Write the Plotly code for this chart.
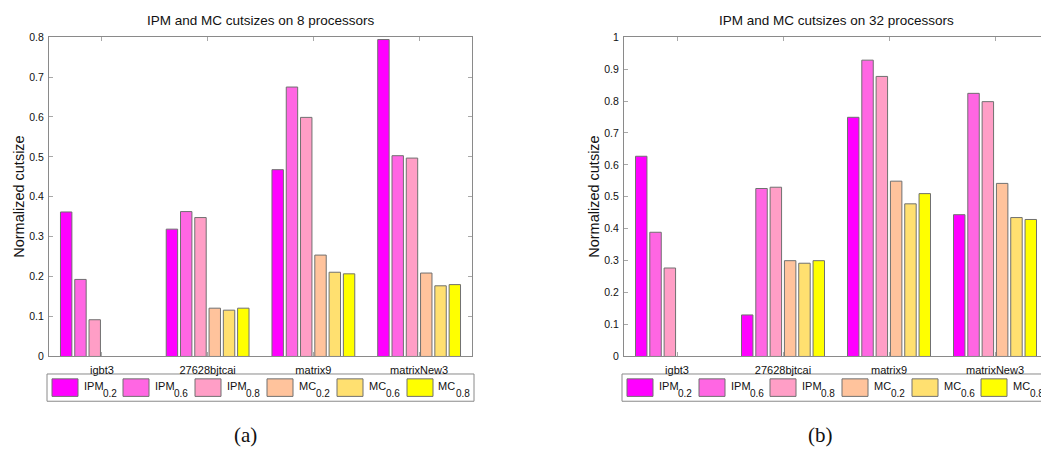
import plotly.graph_objects as go

categories = ["igbt3", "27628bjtcai", "matrix9", "matrixNew3"]
series_main = ["IPM", "IPM", "IPM", "MC", "MC", "MC"]
series_sub = ["0.2", "0.6", "0.8", "0.2", "0.6", "0.8"]
series_colors = ["#FF00FF", "#FF66E3", "#FF9EC6", "#FFC39C", "#FFE070", "#FFFF00"]

# 8 processors
p8_ipm02 = [0.362, 0.319, 0.468, 0.794]
p8_ipm06 = [0.193, 0.363, 0.675, 0.503]
p8_ipm08 = [0.092, 0.348, 0.599, 0.497]
p8_mc02 = [None, 0.121, 0.254, 0.209]
p8_mc06 = [None, 0.116, 0.211, 0.177]
p8_mc08 = [None, 0.121, 0.207, 0.180]

# 32 processors
p32_ipm02 = [0.627, 0.130, 0.749, 0.444]
p32_ipm06 = [0.389, 0.526, 0.928, 0.824]
p32_ipm08 = [0.277, 0.530, 0.877, 0.798]
p32_mc02 = [None, 0.300, 0.549, 0.542]
p32_mc06 = [None, 0.292, 0.478, 0.435]
p32_mc08 = [None, 0.300, 0.510, 0.429]

y_ticks_8 = [0, 0.1, 0.2, 0.3, 0.4, 0.5, 0.6, 0.7, 0.8]
y_ticks_32 = [0, 0.1, 0.2, 0.3, 0.4, 0.5, 0.6, 0.7, 0.8, 0.9, 1]

W, H = 1041, 453
FONT = "Liberation Sans, Arial, Helvetica, sans-serif"

fig = go.Figure()
sets = [
    ("x", "y", [p8_ipm02, p8_ipm06, p8_ipm08, p8_mc02, p8_mc06, p8_mc08]),
    ("x2", "y2", [p32_ipm02, p32_ipm06, p32_ipm08, p32_mc02, p32_mc06, p32_mc08]),
]
for xa, ya, vals in sets:
    for m, s, col, v in zip(series_main, series_sub, series_colors, vals):
        fig.add_trace(go.Bar(
            x=categories, y=v, name=f"{m}<sub>{s}</sub>", xaxis=xa, yaxis=ya,
            marker=dict(color=col, line=dict(color="#707070", width=1)),
            showlegend=False,
        ))


def px_x(px):
    return px / W


def px_y(py):
    return 1 - py / H


ydom = [px_y(360), px_y(32)]
axis_common = dict(showline=True, linecolor="#8a8a8a", linewidth=1,
                   ticks="inside", ticklen=4, tickcolor="#a8a8a8",
                   showgrid=False, zeroline=False)
xfont = dict(family=FONT, size=11, color="#111")
yfont = dict(family=FONT, size=10.5, color="#111")

fig.update_layout(
    width=W, height=H, margin=dict(l=0, r=0, t=0, b=0),
    paper_bgcolor="white", plot_bgcolor="white",
    barmode="group", bargap=0.19, bargroupgap=0.2,
    font=dict(family=FONT, color="#111"),
    xaxis=dict(domain=[px_x(49), px_x(472)], range=[-0.5, 3.5], mirror="allticks",
               anchor="y", tickfont=xfont, ticklabelstandoff=3, **axis_common),
    yaxis=dict(domain=ydom, range=[0, 0.8], tickvals=y_ticks_8, mirror="allticks",
               anchor="x", tickfont=yfont, ticklabelstandoff=2, **axis_common),
    xaxis2=dict(domain=[px_x(624), 1.0], range=[-0.5, 3.434], mirror="allticks",
                anchor="y2", tickfont=xfont, ticklabelstandoff=3, **axis_common),
    yaxis2=dict(domain=ydom, range=[0, 1.0], tickvals=y_ticks_32, mirror=False,
                anchor="x2", tickfont=yfont, ticklabelstandoff=2, **axis_common),
)

annotations = []
shapes = []

# titles
for cx, txt in [(260.5, "IPM and MC cutsizes on 8 processors"),
                (836, "IPM and MC cutsizes on 32 processors")]:
    annotations.append(dict(x=px_x(cx), y=px_y(15), xref="paper", yref="paper",
                            text=txt, showarrow=False, xanchor="center", yanchor="middle",
                            font=dict(family=FONT, size=13.5, color="#111")))
# y titles
for cx in [19, 594]:
    annotations.append(dict(x=px_x(cx), y=px_y(196), xref="paper", yref="paper",
                            text="Normalized cutsize", showarrow=False, textangle=-90,
                            xanchor="center", yanchor="middle",
                            font=dict(family=FONT, size=14.5, color="#111")))
# panel labels
for cx, txt in [(245, "(a)"), (820, "(b)")]:
    annotations.append(dict(x=px_x(cx), y=px_y(441), xref="paper", yref="paper",
                            text=txt, showarrow=False, xanchor="center", yanchor="middle",
                            font=dict(family="Liberation Serif, Times New Roman, serif",
                                      size=21, color="#111")))

# legends (drawn as boxes + text, one per panel)
legend_boxes = [(47, 474), (622, 1060)]
swatch_starts = [
    [52, 123, 195, 267, 337, 407],
    [627, 699, 770, 842, 912, 981],
]
main_width = {"IPM": 19.5, "MC": 17.0}
for (bx0, bx1), starts in zip(legend_boxes, swatch_starts):
    shapes.append(dict(type="rect", xref="paper", yref="paper",
                       x0=px_x(bx0), x1=px_x(bx1), y0=px_y(406), y1=px_y(378),
                       line=dict(color="#8a8a8a", width=1), fillcolor="white", layer="below"))
    for sx, col, m, s in zip(starts, series_colors, series_main, series_sub):
        shapes.append(dict(type="rect", xref="paper", yref="paper",
                           x0=px_x(sx), x1=px_x(sx + 26), y0=px_y(401), y1=px_y(383),
                           line=dict(color="#707070", width=1), fillcolor=col))
        tx = sx + 29.5
        annotations.append(dict(x=px_x(tx), y=px_y(390.5), xref="paper", yref="paper",
                                text=m, showarrow=False, xanchor="left", yanchor="middle",
                                font=dict(family=FONT, size=11, color="#111")))
        annotations.append(dict(x=px_x(tx + main_width[m]), y=px_y(398), xref="paper",
                                yref="paper", text=s, showarrow=False, xanchor="left",
                                yanchor="middle",
                                font=dict(family=FONT, size=10, color="#111")))

fig.update_layout(annotations=annotations, shapes=shapes)
fig.write_html(
    "out.html",
    config={"displayModeBar": False},
    post_script="document.body.style.margin='0';document.body.style.overflow='hidden';",
)
